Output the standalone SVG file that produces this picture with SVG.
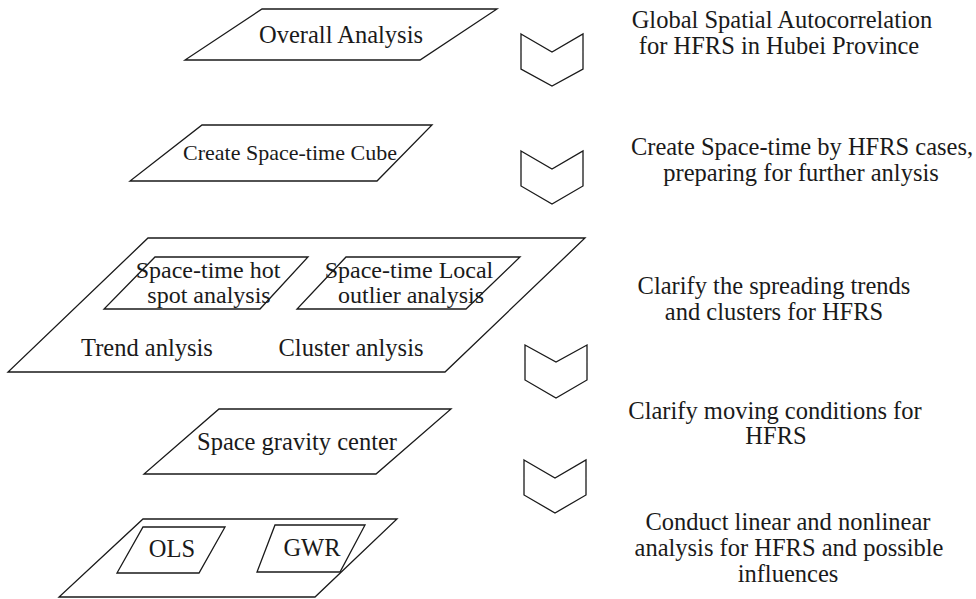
<svg xmlns="http://www.w3.org/2000/svg" width="976" height="599" viewBox="0 0 976 599">
  <style>
    .shape { fill: none; stroke: #1a1a1a; stroke-width: 1.3; stroke-linejoin: miter; }
    .fillw { fill: #ffffff; stroke: #1a1a1a; stroke-width: 1.3; }
    text { font-family: "Liberation Serif", "Times New Roman", serif; fill: #1a1a1a; }
    .lbl { font-size: 24.5px; text-anchor: middle; }
    .in { font-size: 24px; text-anchor: middle; }
    .sm { font-size: 22px; text-anchor: middle; }
    .note { font-size: 24.5px; text-anchor: middle; }
  </style>
  <rect width="976" height="599" fill="#ffffff"/>

  <!-- workflow steps -->
  <g id="overall-analysis">
    <polygon class="shape" points="262,9 497,9 420,60 185,60"/>
    <text class="lbl" x="341" y="43">Overall Analysis</text>
  </g>

  <g id="space-time-cube">
    <polygon class="shape" points="202,125 432,125 377,181 130,181"/>
    <text class="sm" x="290" y="160">Create Space-time Cube</text>
  </g>

  <g id="trend-cluster">
    <polygon class="shape" points="148,238 585,238 445,372 8,372"/>
    <g id="hot-spot">
      <polygon class="shape" points="155,257 308,257 260,309 104,309"/>
      <text class="in" x="208" y="278">Space-time hot</text>
      <text class="in" x="209" y="303">spot analysis</text>
    </g>
    <g id="local-outlier">
      <polygon class="shape" points="346,257 520,257 466,309 297,309"/>
      <text class="in" x="409" y="278">Space-time Local</text>
      <text class="in" x="411" y="303">outlier analysis</text>
    </g>
    <text class="lbl" x="147" y="356">Trend anlysis</text>
    <text class="lbl" x="351" y="356">Cluster anlysis</text>
  </g>

  <g id="gravity-center">
    <polygon class="shape" points="219,409 451,409 376,474 144,474"/>
    <text class="lbl" x="297" y="450">Space gravity center</text>
  </g>

  <g id="regression">
    <polygon class="shape" points="143,519 397,519 315,597 59,597"/>
    <g id="ols">
      <polygon class="shape" points="143,527 225,527 199,573 117,573"/>
      <text class="lbl" x="172" y="557">OLS</text>
    </g>
    <g id="gwr">
      <polygon class="fillw" points="275,525 365,525 340,572 257,572"/>
      <text class="lbl" x="312" y="556">GWR</text>
    </g>
  </g>

  <!-- step connectors (chevrons) -->
  <g id="connectors">
    <polygon class="shape" points="521,34 552,52 583,34 583,69 552,86 521,69"/>
    <polygon class="shape" points="521,151 552,169 583,151 583,186 552,204 521,186"/>
    <polygon class="shape" points="525,345 556,362 587,345 587,380 556,398 525,380"/>
    <polygon class="shape" points="524,460 555,478 586,460 586,495 555,513 524,495"/>
  </g>

  <!-- step descriptions -->
  <g id="descriptions">
    <text class="note" x="782" y="28">Global Spatial Autocorrelation</text>
    <text class="note" x="779" y="54">for HFRS in Hubei Province</text>
    <text class="note" x="802" y="155">Create Space-time by HFRS cases,</text>
    <text class="note" x="801" y="181">preparing for further anlysis</text>
    <text class="note" x="774" y="294">Clarify the spreading trends</text>
    <text class="note" x="774" y="320">and clusters for HFRS</text>
    <text class="note" x="775" y="419">Clarify moving conditions for</text>
    <text class="note" x="776" y="444">HFRS</text>
    <text class="note" x="788" y="530">Conduct linear and nonlinear</text>
    <text class="note" x="789" y="556">analysis for HFRS and possible</text>
    <text class="note" x="788" y="582">influences</text>
  </g>
</svg>
